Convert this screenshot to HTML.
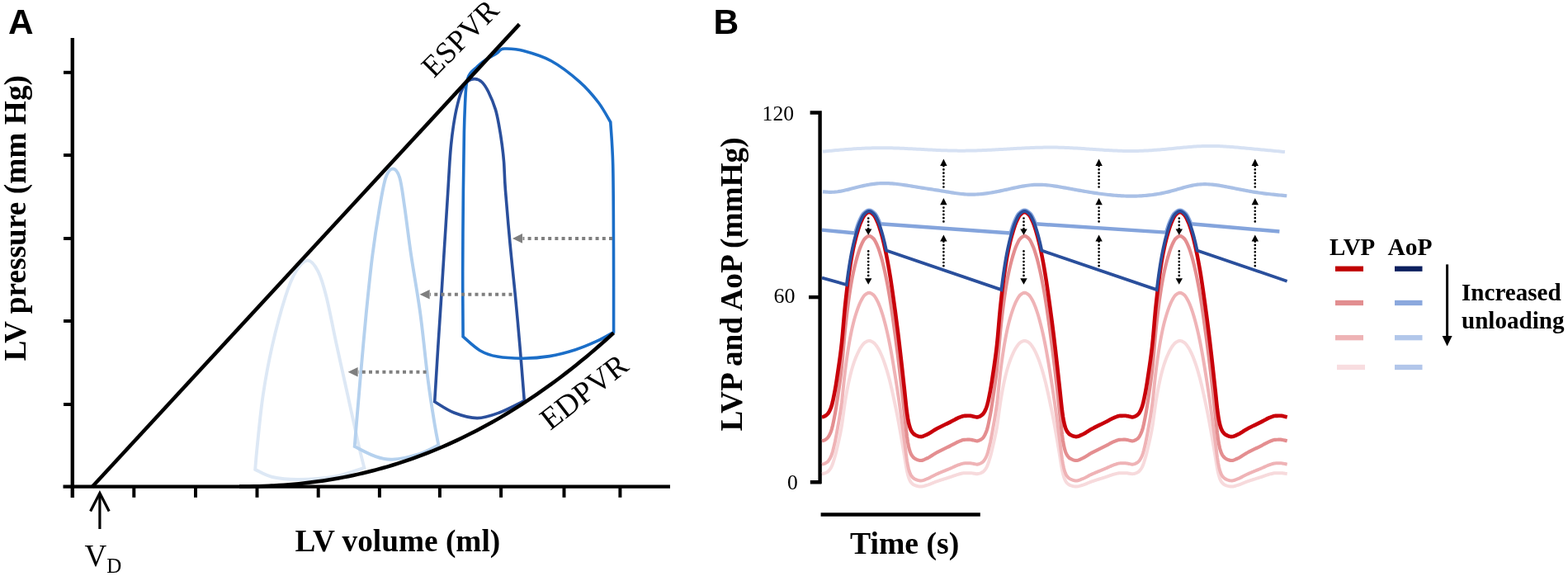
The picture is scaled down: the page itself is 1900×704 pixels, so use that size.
<!DOCTYPE html>
<html><head><meta charset="utf-8"><title>PV loops and LVP/AoP waveforms</title>
<style>html,body{margin:0;padding:0;background:#fff;width:1900px;height:704px;overflow:hidden}svg{display:block}</style>
</head><body>
<svg width="1900" height="704" viewBox="0 0 1900 704">
<rect width="1900" height="704" fill="#fff"/>
<path d="M87.8 46 V603" stroke="#000" stroke-width="4.4" fill="none"/>
<path d="M76.5 589.6 H812" stroke="#000" stroke-width="4.4" fill="none"/>
<path d="M77 87.8 H88" stroke="#000" stroke-width="4" fill="none"/>
<path d="M77 188 H88" stroke="#000" stroke-width="4" fill="none"/>
<path d="M77 289 H88" stroke="#000" stroke-width="4" fill="none"/>
<path d="M77 389 H88" stroke="#000" stroke-width="4" fill="none"/>
<path d="M77 490 H88" stroke="#000" stroke-width="4" fill="none"/>
<path d="M162.3 589 V602.8" stroke="#000" stroke-width="4" fill="none"/>
<path d="M237 589 V602.8" stroke="#000" stroke-width="4" fill="none"/>
<path d="M311.5 589 V602.8" stroke="#000" stroke-width="4" fill="none"/>
<path d="M385.7 589 V602.8" stroke="#000" stroke-width="4" fill="none"/>
<path d="M459.9 589 V602.8" stroke="#000" stroke-width="4" fill="none"/>
<path d="M532.9 589 V602.8" stroke="#000" stroke-width="4" fill="none"/>
<path d="M607.1 589 V602.8" stroke="#000" stroke-width="4" fill="none"/>
<path d="M683.5 589 V602.8" stroke="#000" stroke-width="4" fill="none"/>
<path d="M751.4 589 V602.8" stroke="#000" stroke-width="4" fill="none"/>
<path d="M309.2 568.9 C309.65 563.88 310.32 553.78 311.9 538.8 C313.48 523.82 315.72 498.9 318.7 479 C321.68 459.1 325.28 439.28 329.8 419.4 C334.32 399.52 341.02 374.77 345.8 359.7 C350.58 344.63 354 336.37 358.5 329 C363 321.63 368.3 315.5 372.8 315.5 C377.3 315.5 381.72 321.63 385.5 329 C389.28 336.37 391.72 344.63 395.5 359.7 C399.28 374.77 403.88 399.52 408.2 419.4 C412.52 439.28 417.02 459.1 421.4 479 C425.78 498.9 431.18 524.17 434.5 538.8 C437.82 553.43 440.17 562.13 441.3 566.8 C435.25 568.58 418.22 575.13 405 577.5 C391.78 579.87 374.5 580.92 362 581 C349.5 581.08 338.8 580.02 330 578 C321.2 575.98 312.67 570.42 309.2 568.9 Z" stroke="#dde8f5" stroke-width="3.9" fill="none" stroke-linejoin="miter"/>
<path d="M429.7 541.1 C430.05 536.73 430.68 528.25 431.8 514.9 C432.92 501.55 434.42 483.48 436.4 461 C438.38 438.52 441.22 405.27 443.7 380 C446.18 354.73 448.53 331.12 451.3 309.4 C454.07 287.68 457.6 265.43 460.3 249.7 C463 233.97 464.88 222.53 467.5 215 C470.12 207.47 473.22 204.5 476 204.5 C478.78 204.5 481.85 207.47 484.2 215 C486.55 222.53 487.77 233.97 490.1 249.7 C492.43 265.43 495 287.68 498.2 309.4 C501.4 331.12 505.88 354.73 509.3 380 C512.72 405.27 515.78 438.52 518.7 461 C521.62 483.48 524.68 501.87 526.8 514.9 C528.92 527.93 530.63 535.15 531.4 539.2 C527.5 541 517.32 547.08 508 550 C498.68 552.92 484.5 556.25 475.5 556.7 C466.5 557.15 461.63 555.3 454 552.7 C446.37 550.1 433.75 543.03 429.7 541.1 Z" stroke="#b5d1ee" stroke-width="3.9" fill="none"/>
<path d="M526.7 486.8 C527.38 475.67 529.45 441.27 530.8 420 C532.15 398.73 533.47 380.03 534.8 359.2 C536.13 338.37 537.45 316.53 538.8 295 C540.15 273.47 541.88 246.4 542.9 230 C543.92 213.6 544.28 205.72 544.9 196.6 C545.52 187.48 545.88 182.4 546.6 175.3 C547.32 168.2 548.13 161.12 549.2 154 C550.27 146.88 551.4 139.72 553 132.6 C554.6 125.48 556.63 116.85 558.8 111.3 C560.97 105.75 563.27 101.92 566 99.3 C568.73 96.68 572.2 95.57 575.2 95.6 C578.2 95.63 581.23 96.88 584 99.5 C586.77 102.12 589.07 105.78 591.8 111.3 C594.53 116.82 598.2 125.48 600.4 132.6 C602.6 139.72 603.68 146.88 605 154 C606.32 161.12 607.37 168.2 608.3 175.3 C609.23 182.4 609.92 187.48 610.6 196.6 C611.28 205.72 611.17 213.6 612.4 230 C613.63 246.4 615.98 273.47 618 295 C620.02 316.53 622.5 338.37 624.5 359.2 C626.5 380.03 628.2 398.93 630 420 C631.8 441.07 634.42 474.67 635.3 485.6 C630.25 488 614.52 496.5 605 500 C595.48 503.5 587.37 506.6 578.2 506.6 C569.03 506.6 558.58 503.3 550 500 C541.42 496.7 530.58 489 526.7 486.8 Z" stroke="#2a4f9c" stroke-width="3.6" fill="none"/>
<path d="M561.1 407.9 C561.03 394.92 560.65 359.65 560.7 330 C560.75 300.35 561.12 258.33 561.4 230 C561.68 201.67 562.03 177.5 562.4 160 C562.77 142.5 563.2 134.17 563.6 125 C564 115.83 564.27 110 564.8 105 C565.33 100 565.93 97.75 566.8 95 C567.67 92.25 568.22 90.75 570 88.5 C571.78 86.25 575 83.75 577.5 81.5 C580 79.25 582.58 76.88 585 75 C587.42 73.12 589.83 71.53 592 70.2 C594.17 68.87 596.17 68.07 598 67 C599.83 65.93 601.58 64.88 603 63.8 C604.42 62.72 605 61.3 606.5 60.5 C608 59.7 607.4 58.82 612 59 C616.6 59.18 624.73 59.1 634.1 61.6 C643.47 64.1 656.83 67.75 668.2 74 C679.57 80.25 692.83 90.77 702.3 99.1 C711.77 107.43 718.75 115.85 725 124 C731.25 132.15 737.33 144 739.8 148 C740.28 156.67 742.08 174.67 742.7 200 C743.32 225.33 743.35 266.25 743.5 300 C743.65 333.75 743.58 385.42 743.6 402.5 C740.28 404.28 731.4 409.67 723.7 413.2 C716 416.73 707.05 420.63 697.4 423.7 C687.75 426.77 676.33 429.85 665.8 431.6 C655.27 433.35 644.73 434.12 634.2 434.2 C623.67 434.28 611.37 433.68 602.6 432.1 C593.83 430.52 588.52 428.73 581.6 424.7 C574.68 420.67 564.52 410.7 561.1 407.9 Z" stroke="#1b6ec8" stroke-width="3.6" fill="none"/>
<path d="M111.6 590 L629.4 29.4" stroke="#000" stroke-width="4.5" fill="none"/>
<path d="M290 589.59 C291 589.58 294 589.57 296 589.55 C298 589.53 300 589.5 302 589.47 C304 589.44 306 589.4 308 589.35 C310 589.3 312 589.25 314 589.19 C316 589.13 318 589.06 320 588.99 C322 588.91 324 588.83 326 588.74 C328 588.64 330 588.54 332 588.44 C334 588.33 336 588.21 338 588.08 C340 587.96 342 587.83 344 587.68 C346 587.54 348 587.39 350 587.23 C352 587.06 354 586.89 356 586.71 C358 586.53 360 586.35 362 586.15 C364 585.95 366 585.74 368 585.52 C370 585.31 372 585.08 374 584.84 C376 584.6 378 584.36 380 584.1 C382 583.84 384 583.57 386 583.3 C388 583.02 390 582.73 392 582.43 C394 582.14 396 581.83 398 581.51 C400 581.19 402 580.86 404 580.52 C406 580.18 408 579.83 410 579.47 C412 579.11 414 578.74 416 578.35 C418 577.97 420 577.58 422 577.17 C424 576.77 426 576.35 428 575.93 C430 575.5 432 575.06 434 574.61 C436 574.16 438 573.7 440 573.23 C442 572.76 444 572.28 446 571.78 C448 571.29 450 570.78 452 570.26 C454 569.74 456 569.22 458 568.67 C460 568.13 462 567.58 464 567.02 C466 566.45 468 565.88 470 565.29 C472 564.7 474 564.1 476 563.49 C478 562.88 480 562.25 482 561.62 C484 560.98 486 560.34 488 559.68 C490 559.02 492 558.34 494 557.66 C496 556.97 498 556.28 500 555.57 C502 554.86 504 554.14 506 553.41 C508 552.67 510 551.93 512 551.17 C514 550.41 516 549.64 518 548.85 C520 548.07 522 547.28 524 546.47 C526 545.66 528 544.84 530 544 C532 543.17 534 542.32 536 541.46 C538 540.6 540 539.73 542 538.84 C544 537.96 546 537.06 548 536.15 C550 535.24 552 534.31 554 533.38 C556 532.44 558 531.49 560 530.52 C562 529.56 564 528.58 566 527.59 C568 526.61 570 525.6 572 524.59 C574 523.57 576 522.54 578 521.5 C580 520.45 582 519.4 584 518.33 C586 517.26 588 516.18 590 515.08 C592 513.98 594 512.87 596 511.75 C598 510.63 600 509.49 602 508.34 C604 507.19 606 506.03 608 504.85 C610 503.67 612 502.48 614 501.27 C616 500.07 618 498.85 620 497.62 C622 496.39 624 495.14 626 493.88 C628 492.62 630 491.35 632 490.06 C634 488.77 636 487.47 638 486.15 C640 484.84 642 483.51 644 482.16 C646 480.82 648 479.46 650 478.09 C652 476.72 654 475.33 656 473.93 C658 472.53 660 471.12 662 469.69 C664 468.26 666 466.82 668 465.36 C670 463.9 672 462.43 674 460.95 C676 459.46 678 457.96 680 456.45 C682 454.93 684 453.4 686 451.86 C688 450.32 690 448.76 692 447.19 C694 445.62 696 444.03 698 442.43 C700 440.83 702 439.21 704 437.58 C706 435.95 708 434.31 710 432.65 C712 430.99 714 429.32 716 427.63 C718 425.94 720 424.24 722 422.52 C724 420.8 726 419.07 728 417.32 C730 415.57 732 413.81 734 412.03 C736 410.26 738.4 408.1 740 406.66 C741.6 405.22 743 403.93 743.6 403.39" stroke="#000" stroke-width="4.5" fill="none"/>
<path d="M742 288.9 H633.5" stroke="#7f7f7f" stroke-width="4" stroke-dasharray="4 4.2" fill="none"/><path d="M621 288.9 L633 283.1 L633 294.7 Z" fill="#7f7f7f"/>
<path d="M620.5 356.8 H521.1" stroke="#7f7f7f" stroke-width="4" stroke-dasharray="4 4.2" fill="none"/><path d="M508.6 356.8 L520.6 351 L520.6 362.6 Z" fill="#7f7f7f"/>
<path d="M516.6 450.7 H434.1" stroke="#7f7f7f" stroke-width="4" stroke-dasharray="4 4.2" fill="none"/><path d="M421.6 450.7 L433.6 444.9 L433.6 456.5 Z" fill="#7f7f7f"/>
<path d="M120.9 641 V599" stroke="#000" stroke-width="3.2" fill="none"/>
<path d="M109.6 619.5 L120.9 597.5 L132.2 619.5" stroke="#000" stroke-width="3.2" fill="none"/>
<path d="M981.6 136.5 H993.6 V586.2 M981.8 584.2 H995" stroke="#000" stroke-width="4.4" fill="none" stroke-linejoin="miter"/>
<path d="M980 360.1 H994" stroke="#000" stroke-width="4.4" fill="none"/>
<path d="M994.6 623.5 H1187.8" stroke="#000" stroke-width="4.3" fill="none"/>
<path d="M997 183.6 L999 183.41 L1001 183.22 L1003 183.03 L1005 182.84 L1007 182.65 L1009 182.47 L1011 182.28 L1013 182.1 L1015 181.92 L1017 181.75 L1019 181.57 L1021 181.4 L1023 181.24 L1025 181.08 L1027 180.92 L1029 180.77 L1031 180.63 L1033 180.49 L1035 180.35 L1037 180.22 L1039 180.1 L1041 179.99 L1043 179.88 L1045 179.78 L1047 179.69 L1049 179.6 L1051 179.52 L1053 179.45 L1055 179.39 L1057 179.34 L1059 179.29 L1061 179.25 L1063 179.23 L1065 179.21 L1067 179.2 L1069 179.2 L1071 179.21 L1073 179.22 L1075 179.25 L1077 179.28 L1079 179.32 L1081 179.36 L1083 179.42 L1085 179.48 L1087 179.54 L1089 179.61 L1091 179.69 L1093 179.77 L1095 179.85 L1097 179.94 L1099 180.03 L1101 180.13 L1103 180.23 L1105 180.33 L1107 180.43 L1109 180.54 L1111 180.64 L1113 180.75 L1115 180.86 L1117 180.96 L1119 181.07 L1121 181.18 L1123 181.28 L1125 181.39 L1127 181.49 L1129 181.59 L1131 181.69 L1133 181.79 L1135 181.88 L1137 181.97 L1139 182.05 L1141 182.14 L1143 182.21 L1145 182.28 L1147 182.35 L1149 182.41 L1151 182.46 L1153 182.51 L1155 182.55 L1157 182.59 L1159 182.61 L1161 182.63 L1163 182.64 L1165 182.65 L1167 182.64 L1169 182.63 L1171 182.62 L1173 182.59 L1175 182.56 L1177 182.52 L1179 182.48 L1181 182.43 L1183 182.38 L1185 182.32 L1187 182.25 L1189 182.18 L1191 182.1 L1193 182.02 L1195 181.93 L1197 181.84 L1199 181.75 L1201 181.65 L1203 181.55 L1205 181.44 L1207 181.34 L1209 181.23 L1211 181.12 L1213 181 L1215 180.89 L1217 180.77 L1219 180.66 L1221 180.54 L1223 180.43 L1225 180.31 L1227 180.2 L1229 180.09 L1231 179.97 L1233 179.86 L1235 179.76 L1237 179.65 L1239 179.55 L1241 179.45 L1243 179.35 L1245 179.26 L1247 179.17 L1249 179.09 L1251 179.01 L1253 178.94 L1255 178.87 L1257 178.8 L1259 178.75 L1261 178.7 L1263 178.65 L1265 178.62 L1267 178.59 L1269 178.57 L1271 178.55 L1273 178.55 L1275 178.55 L1277 178.56 L1279 178.59 L1281 178.62 L1283 178.66 L1285 178.71 L1287 178.77 L1289 178.83 L1291 178.91 L1293 178.99 L1295 179.08 L1297 179.18 L1299 179.28 L1301 179.39 L1303 179.5 L1305 179.62 L1307 179.74 L1309 179.86 L1311 179.99 L1313 180.12 L1315 180.26 L1317 180.39 L1319 180.53 L1321 180.67 L1323 180.81 L1325 180.94 L1327 181.08 L1329 181.22 L1331 181.36 L1333 181.49 L1335 181.62 L1337 181.75 L1339 181.88 L1341 182 L1343 182.12 L1345 182.23 L1347 182.34 L1349 182.44 L1351 182.53 L1353 182.62 L1355 182.7 L1357 182.77 L1359 182.84 L1361 182.89 L1363 182.93 L1365 182.97 L1367 182.99 L1369 183 L1371 183 L1373 182.99 L1375 182.97 L1377 182.93 L1379 182.88 L1381 182.82 L1383 182.75 L1385 182.67 L1387 182.58 L1389 182.49 L1391 182.38 L1393 182.26 L1395 182.14 L1397 182 L1399 181.86 L1401 181.72 L1403 181.56 L1405 181.4 L1407 181.24 L1409 181.07 L1411 180.89 L1413 180.71 L1415 180.53 L1417 180.34 L1419 180.15 L1421 179.95 L1423 179.76 L1425 179.56 L1427 179.36 L1429 179.17 L1431 178.97 L1433 178.78 L1435 178.59 L1437 178.41 L1439 178.23 L1441 178.07 L1443 177.9 L1445 177.75 L1447 177.6 L1449 177.47 L1451 177.35 L1453 177.24 L1455 177.14 L1457 177.06 L1459 176.99 L1461 176.94 L1463 176.9 L1465 176.88 L1467 176.88 L1469 176.9 L1471 176.93 L1473 176.98 L1475 177.04 L1477 177.11 L1479 177.2 L1481 177.3 L1483 177.41 L1485 177.53 L1487 177.66 L1489 177.8 L1491 177.95 L1493 178.1 L1495 178.26 L1497 178.43 L1499 178.6 L1501 178.78 L1503 178.96 L1505 179.14 L1507 179.32 L1509 179.51 L1511 179.7 L1513 179.88 L1515 180.07 L1517 180.26 L1519 180.45 L1521 180.64 L1523 180.83 L1525 181.02 L1527 181.21 L1529 181.4 L1531 181.59 L1533 181.78 L1535 181.98 L1537 182.17 L1539 182.36 L1541 182.55 L1543 182.75 L1545 182.94 L1547 183.13 L1549 183.33 L1551 183.52 L1553 183.71 L1555 183.91 L1557 184.1" stroke="#d6e1f3" stroke-width="4" fill="none" stroke-linecap="butt"/>
<path d="M997 232.3 L999 232.46 L1001 232.6 L1003 232.72 L1005 232.79 L1007 232.81 L1009 232.77 L1011 232.65 L1013 232.47 L1015 232.23 L1017 231.93 L1019 231.59 L1021 231.2 L1023 230.78 L1025 230.32 L1027 229.85 L1029 229.35 L1031 228.84 L1033 228.32 L1035 227.81 L1037 227.29 L1039 226.79 L1041 226.3 L1043 225.82 L1045 225.35 L1047 224.91 L1049 224.49 L1051 224.09 L1053 223.72 L1055 223.39 L1057 223.08 L1059 222.81 L1061 222.57 L1063 222.38 L1065 222.23 L1067 222.12 L1069 222.06 L1071 222.03 L1073 222.05 L1075 222.09 L1077 222.17 L1079 222.28 L1081 222.42 L1083 222.59 L1085 222.78 L1087 223 L1089 223.24 L1091 223.49 L1093 223.76 L1095 224.05 L1097 224.35 L1099 224.66 L1101 224.98 L1103 225.3 L1105 225.63 L1107 225.96 L1109 226.29 L1111 226.62 L1113 226.95 L1115 227.27 L1117 227.58 L1119 227.9 L1121 228.21 L1123 228.52 L1125 228.82 L1127 229.13 L1129 229.44 L1131 229.75 L1133 230.06 L1135 230.37 L1137 230.69 L1139 231.01 L1141 231.34 L1143 231.67 L1145 232 L1147 232.34 L1149 232.68 L1151 233.01 L1153 233.34 L1155 233.66 L1157 233.96 L1159 234.25 L1161 234.52 L1163 234.77 L1165 235 L1167 235.19 L1169 235.36 L1171 235.5 L1173 235.59 L1175 235.65 L1177 235.67 L1179 235.65 L1181 235.6 L1183 235.51 L1185 235.39 L1187 235.25 L1189 235.07 L1191 234.86 L1193 234.63 L1195 234.37 L1197 234.09 L1199 233.78 L1201 233.46 L1203 233.12 L1205 232.76 L1207 232.38 L1209 231.99 L1211 231.59 L1213 231.17 L1215 230.75 L1217 230.32 L1219 229.88 L1221 229.43 L1223 228.99 L1225 228.54 L1227 228.1 L1229 227.66 L1231 227.24 L1233 226.82 L1235 226.42 L1237 226.03 L1239 225.67 L1241 225.33 L1243 225.02 L1245 224.73 L1247 224.48 L1249 224.26 L1251 224.07 L1253 223.93 L1255 223.83 L1257 223.78 L1259 223.77 L1261 223.81 L1263 223.88 L1265 223.99 L1267 224.14 L1269 224.32 L1271 224.53 L1273 224.77 L1275 225.03 L1277 225.32 L1279 225.62 L1281 225.94 L1283 226.27 L1285 226.61 L1287 226.96 L1289 227.32 L1291 227.68 L1293 228.04 L1295 228.4 L1297 228.77 L1299 229.13 L1301 229.49 L1303 229.85 L1305 230.21 L1307 230.56 L1309 230.91 L1311 231.26 L1313 231.61 L1315 231.95 L1317 232.29 L1319 232.62 L1321 232.95 L1323 233.26 L1325 233.58 L1327 233.88 L1329 234.18 L1331 234.47 L1333 234.75 L1335 235.02 L1337 235.28 L1339 235.53 L1341 235.77 L1343 235.99 L1345 236.21 L1347 236.41 L1349 236.6 L1351 236.78 L1353 236.94 L1355 237.08 L1357 237.21 L1359 237.33 L1361 237.43 L1363 237.51 L1365 237.57 L1367 237.62 L1369 237.65 L1371 237.66 L1373 237.65 L1375 237.62 L1377 237.57 L1379 237.51 L1381 237.42 L1383 237.31 L1385 237.18 L1387 237.03 L1389 236.86 L1391 236.67 L1393 236.45 L1395 236.22 L1397 235.96 L1399 235.68 L1401 235.38 L1403 235.05 L1405 234.7 L1407 234.33 L1409 233.93 L1411 233.51 L1413 233.07 L1415 232.6 L1417 232.1 L1419 231.58 L1421 231.04 L1423 230.48 L1425 229.91 L1427 229.34 L1429 228.76 L1431 228.19 L1433 227.62 L1435 227.07 L1437 226.54 L1439 226.02 L1441 225.54 L1443 225.09 L1445 224.68 L1447 224.31 L1449 223.98 L1451 223.71 L1453 223.5 L1455 223.35 L1457 223.25 L1459 223.2 L1461 223.21 L1463 223.26 L1465 223.35 L1467 223.49 L1469 223.66 L1471 223.87 L1473 224.11 L1475 224.38 L1477 224.68 L1479 225 L1481 225.34 L1483 225.7 L1485 226.07 L1487 226.46 L1489 226.85 L1491 227.25 L1493 227.66 L1495 228.06 L1497 228.47 L1499 228.87 L1501 229.27 L1503 229.66 L1505 230.05 L1507 230.43 L1509 230.81 L1511 231.18 L1513 231.54 L1515 231.89 L1517 232.23 L1519 232.57 L1521 232.88 L1523 233.19 L1525 233.48 L1527 233.77 L1529 234.04 L1531 234.3 L1533 234.55 L1535 234.8 L1537 235.03 L1539 235.26 L1541 235.48 L1543 235.69 L1545 235.9 L1547 236.11 L1549 236.31 L1551 236.51 L1553 236.7 L1555 236.89 L1557 237.08 L1559 237.27 L1559.3 237.3" stroke="#a9c0e6" stroke-width="4.2" fill="none"/>
<path d="M996 278.6 L1036.24 282.49 L1036.49 281.62 L1036.74 280.76 L1037 279.91 L1037.25 279.06 L1037.5 278.23 L1037.75 277.4 L1038.01 276.59 L1038.26 275.79 L1038.51 275 L1038.77 274.23 L1039.02 273.48 L1039.28 272.74 L1039.54 272.01 L1039.79 271.31 L1040.05 270.62 L1040.31 269.95 L1040.57 269.3 L1040.83 268.67 L1041.1 268.07 L1041.35 267.5 L1041.6 266.94 L1041.85 266.38 L1042.11 265.81 L1042.36 265.26 L1042.62 264.71 L1042.88 264.16 L1043.14 263.63 L1043.4 263.1 L1043.66 262.59 L1043.93 262.09 L1044.2 261.6 L1044.47 261.13 L1044.75 260.67 L1045.04 260.23 L1045.33 259.81 L1045.64 259.4 L1045.96 259.01 L1046.3 258.64 L1046.66 258.29 L1046.91 258.06 L1047.17 257.83 L1047.43 257.6 L1047.7 257.37 L1047.97 257.14 L1048.24 256.91 L1048.52 256.68 L1048.81 256.46 L1049.11 256.24 L1049.41 256.03 L1049.73 255.83 L1050.05 255.63 L1050.39 255.45 L1050.74 255.27 L1051.11 255.12 L1051.49 254.98 L1051.89 254.86 L1052.31 254.78 L1052.75 254.72 L1053.2 254.7 L1053.65 254.72 L1054.09 254.78 L1054.51 254.86 L1054.91 254.98 L1055.29 255.12 L1055.66 255.27 L1056.01 255.45 L1056.35 255.63 L1056.67 255.83 L1056.99 256.03 L1057.29 256.24 L1057.59 256.46 L1057.88 256.68 L1058.16 256.91 L1058.43 257.14 L1058.7 257.37 L1058.97 257.6 L1059.23 257.83 L1059.49 258.06 L1059.74 258.29 L1060.1 258.64 L1060.44 259.01 L1060.76 259.4 L1061.07 259.81 L1061.36 260.23 L1061.65 260.67 L1061.93 261.13 L1062.2 261.6 L1062.47 262.09 L1062.74 262.59 L1063 263.1 L1063.26 263.63 L1063.52 264.16 L1063.78 264.71 L1064.04 265.26 L1064.29 265.81 L1064.55 266.38 L1064.8 266.94 L1065.05 267.5 L1065.3 268.07 L1065.57 268.67 L1065.83 269.3 L1066.09 269.95 L1066.35 270.62 L1066.61 271.31 L1066.61 271.31 L1224.54 282.49 L1224.79 281.62 L1225.04 280.76 L1225.3 279.91 L1225.55 279.06 L1225.8 278.23 L1226.05 277.4 L1226.31 276.59 L1226.56 275.79 L1226.81 275 L1227.07 274.23 L1227.32 273.48 L1227.58 272.74 L1227.84 272.01 L1228.09 271.31 L1228.35 270.62 L1228.61 269.95 L1228.87 269.3 L1229.13 268.67 L1229.4 268.07 L1229.65 267.5 L1229.9 266.94 L1230.15 266.38 L1230.41 265.81 L1230.66 265.26 L1230.92 264.71 L1231.18 264.16 L1231.44 263.63 L1231.7 263.1 L1231.96 262.59 L1232.23 262.09 L1232.5 261.6 L1232.77 261.13 L1233.05 260.67 L1233.34 260.23 L1233.63 259.81 L1233.94 259.4 L1234.26 259.01 L1234.6 258.64 L1234.96 258.29 L1235.21 258.06 L1235.47 257.83 L1235.73 257.6 L1236 257.37 L1236.27 257.14 L1236.54 256.91 L1236.82 256.68 L1237.11 256.46 L1237.41 256.24 L1237.71 256.03 L1238.03 255.83 L1238.35 255.63 L1238.69 255.45 L1239.04 255.27 L1239.41 255.12 L1239.79 254.98 L1240.19 254.86 L1240.61 254.78 L1241.05 254.72 L1241.5 254.7 L1241.95 254.72 L1242.39 254.78 L1242.81 254.86 L1243.21 254.98 L1243.59 255.12 L1243.96 255.27 L1244.31 255.45 L1244.65 255.63 L1244.97 255.83 L1245.29 256.03 L1245.59 256.24 L1245.89 256.46 L1246.18 256.68 L1246.46 256.91 L1246.73 257.14 L1247 257.37 L1247.27 257.6 L1247.53 257.83 L1247.79 258.06 L1248.04 258.29 L1248.4 258.64 L1248.74 259.01 L1249.06 259.4 L1249.37 259.81 L1249.66 260.23 L1249.95 260.67 L1250.23 261.13 L1250.5 261.6 L1250.77 262.09 L1251.04 262.59 L1251.3 263.1 L1251.56 263.63 L1251.82 264.16 L1252.08 264.71 L1252.34 265.26 L1252.59 265.81 L1252.85 266.38 L1253.1 266.94 L1253.35 267.5 L1253.6 268.07 L1253.87 268.67 L1254.13 269.3 L1254.39 269.95 L1254.65 270.62 L1254.91 271.31 L1254.91 271.31 L1413.09 281.62 L1413.34 280.76 L1413.6 279.91 L1413.85 279.06 L1414.1 278.23 L1414.35 277.4 L1414.61 276.59 L1414.86 275.79 L1415.11 275 L1415.37 274.23 L1415.62 273.48 L1415.88 272.74 L1416.14 272.01 L1416.39 271.31 L1416.65 270.62 L1416.91 269.95 L1417.17 269.3 L1417.43 268.67 L1417.7 268.07 L1417.95 267.5 L1418.2 266.94 L1418.45 266.38 L1418.71 265.81 L1418.96 265.26 L1419.22 264.71 L1419.48 264.16 L1419.74 263.63 L1420 263.1 L1420.26 262.59 L1420.53 262.09 L1420.8 261.6 L1421.07 261.13 L1421.35 260.67 L1421.64 260.23 L1421.93 259.81 L1422.24 259.4 L1422.56 259.01 L1422.9 258.64 L1423.26 258.29 L1423.51 258.06 L1423.77 257.83 L1424.03 257.6 L1424.3 257.37 L1424.57 257.14 L1424.84 256.91 L1425.12 256.68 L1425.41 256.46 L1425.71 256.24 L1426.01 256.03 L1426.33 255.83 L1426.65 255.63 L1426.99 255.45 L1427.34 255.27 L1427.71 255.12 L1428.09 254.98 L1428.49 254.86 L1428.91 254.78 L1429.35 254.72 L1429.8 254.7 L1430.25 254.72 L1430.69 254.78 L1431.11 254.86 L1431.51 254.98 L1431.89 255.12 L1432.26 255.27 L1432.61 255.45 L1432.95 255.63 L1433.27 255.83 L1433.59 256.03 L1433.89 256.24 L1434.19 256.46 L1434.48 256.68 L1434.76 256.91 L1435.03 257.14 L1435.3 257.37 L1435.57 257.6 L1435.83 257.83 L1436.09 258.06 L1436.34 258.29 L1436.7 258.64 L1437.04 259.01 L1437.36 259.4 L1437.67 259.81 L1437.96 260.23 L1438.25 260.67 L1438.53 261.13 L1438.8 261.6 L1439.07 262.09 L1439.34 262.59 L1439.6 263.1 L1439.86 263.63 L1440.12 264.16 L1440.38 264.71 L1440.64 265.26 L1440.89 265.81 L1441.15 266.38 L1441.4 266.94 L1441.65 267.5 L1441.9 268.07 L1442.17 268.67 L1442.43 269.3 L1442.69 269.95 L1442.95 270.62 L1443.21 271.31 L1443.21 271.31 L1550.4 280.53" stroke="#84a4dc" stroke-width="4.4" fill="none" stroke-linejoin="round"/>
<path d="M996 574.17 L997 574.01 L998 573.81 L999 573.54 L1000 573.19 L1001 572.77 L1002 572.27 L1003 571.62 L1004 570.71 L1005 569.56 L1006 568.19 L1007 566.64 L1008 564.63 L1009 562.01 L1010 558.98 L1011 555.74 L1012 552.31 L1013 548.46 L1014 544.29 L1015 539.96 L1016 535.59 L1017 531.15 L1018 526.48 L1019 521.41 L1020 515.69 L1021 508.79 L1022 501.22 L1023 493.7 L1024 486.94 L1025 480.95 L1026 475.26 L1027 469.89 L1028 464.9 L1029 460.29 L1030 455.98 L1031 451.95 L1032 448.2 L1033 444.76 L1034 441.6 L1035 438.65 L1036 435.9 L1037 433.33 L1038 430.94 L1039 428.69 L1040 426.54 L1041 424.52 L1042 422.67 L1043 421.04 L1044 419.58 L1045 418.19 L1046 416.91 L1047 415.84 L1048 415.03 L1049 414.44 L1050 413.9 L1051 413.44 L1052 413.11 L1053 412.96 L1054 413.03 L1055 413.29 L1056 413.7 L1057 414.22 L1058 414.79 L1059 415.48 L1060 416.46 L1061 417.66 L1062 419.01 L1063 420.45 L1064 421.99 L1065 423.76 L1066 425.71 L1067 427.81 L1068 430.03 L1069 432.37 L1070 434.91 L1071 437.63 L1072 440.5 L1073 443.5 L1074 446.62 L1075 449.93 L1076 453.41 L1077 457.05 L1078 460.86 L1079 464.85 L1080 469.1 L1081 473.55 L1082 478.12 L1083 482.77 L1084 487.46 L1085 492.25 L1086 497.16 L1087 502.18 L1088 507.32 L1089 512.61 L1090 518.09 L1091 523.7 L1092 529.39 L1093 535.19 L1094 541.12 L1095 547.07 L1096 552.98 L1097 559.22 L1098 565.39 L1099 570.81 L1100 575.03 L1101 578.51 L1102 581.08 L1103 583.08 L1104 584.58 L1105 585.65 L1106 586.55 L1107 587.27 L1108 587.79 L1109 588.15 L1110 588.49 L1111 588.79 L1112 589.05 L1113 589.27 L1114 589.43 L1115 589.53 L1116 589.55 L1117 589.48 L1118 589.32 L1119 589.1 L1120 588.83 L1121 588.53 L1122 588.22 L1123 587.92 L1124 587.63 L1125 587.3 L1126 586.93 L1127 586.55 L1128 586.14 L1129 585.73 L1130 585.31 L1131 584.89 L1132 584.48 L1133 584.09 L1134 583.72 L1135 583.36 L1136 583.02 L1137 582.68 L1138 582.35 L1139 582.02 L1140 581.69 L1141 581.37 L1142 581.05 L1143 580.73 L1144 580.41 L1145 580.1 L1146 579.78 L1147 579.47 L1148 579.15 L1149 578.84 L1150 578.52 L1151 578.19 L1152 577.86 L1153 577.52 L1154 577.18 L1155 576.82 L1156 576.47 L1157 576.12 L1158 575.77 L1159 575.44 L1160 575.12 L1161 574.82 L1162 574.54 L1163 574.28 L1164 574.04 L1165 573.79 L1166 573.55 L1167 573.35 L1168 573.23 L1169 573.19 L1170 573.17 L1171 573.16 L1172 573.15 L1173 573.14 L1174 573.13 L1175 573.13 L1176 573.16 L1177 573.25 L1178 573.39 L1179 573.54 L1180 573.69 L1181 573.83 L1182 574 L1183 574.15 L1184 574.27 L1185 574.06 L1186 573.88 L1187 573.63 L1188 573.31 L1189 572.9 L1190 572.43 L1191 571.85 L1192 571.01 L1193 569.93 L1194 568.63 L1195 567.13 L1196 565.31 L1197 562.85 L1198 559.92 L1199 556.72 L1200 553.39 L1201 549.65 L1202 545.57 L1203 541.27 L1204 536.91 L1205 532.5 L1206 527.92 L1207 522.98 L1208 517.52 L1209 510.96 L1210 503.52 L1211 495.91 L1212 488.85 L1213 482.72 L1214 476.93 L1215 471.47 L1216 466.36 L1217 461.63 L1218 457.25 L1219 453.13 L1220 449.29 L1221 445.76 L1222 442.53 L1223 439.52 L1224 436.71 L1225 434.08 L1226 431.64 L1227 429.35 L1228 427.17 L1229 425.11 L1230 423.21 L1231 421.51 L1232 420.02 L1233 418.6 L1234 417.28 L1235 416.14 L1236 415.24 L1237 414.61 L1238 414.06 L1239 413.57 L1240 413.2 L1241 412.99 L1242 412.99 L1243 413.2 L1244 413.57 L1245 414.06 L1246 414.61 L1247 415.24 L1248 416.14 L1249 417.28 L1250 418.6 L1251 420.02 L1252 421.51 L1253 423.21 L1254 425.11 L1255 427.17 L1256 429.35 L1257 431.65 L1258 434.13 L1259 436.8 L1260 439.63 L1261 442.59 L1262 445.67 L1263 448.92 L1264 452.35 L1265 455.94 L1266 459.7 L1267 463.62 L1268 467.8 L1269 472.2 L1270 476.74 L1271 481.37 L1272 486.04 L1273 490.8 L1274 495.67 L1275 500.66 L1276 505.76 L1277 511 L1278 516.43 L1279 522.01 L1280 527.68 L1281 533.44 L1282 539.34 L1283 545.29 L1284 551.2 L1285 557.33 L1286 563.59 L1287 569.3 L1288 573.85 L1289 577.55 L1290 580.4 L1291 582.53 L1292 584.19 L1293 585.35 L1294 586.29 L1295 587.07 L1296 587.65 L1297 588.04 L1298 588.39 L1299 588.7 L1300 588.98 L1301 589.21 L1302 589.39 L1303 589.51 L1304 589.55 L1305 589.51 L1306 589.38 L1307 589.17 L1308 588.91 L1309 588.62 L1310 588.31 L1311 588.01 L1312 587.72 L1313 587.4 L1314 587.04 L1315 586.67 L1316 586.27 L1317 585.85 L1318 585.44 L1319 585.02 L1320 584.6 L1321 584.21 L1322 583.83 L1323 583.47 L1324 583.12 L1325 582.78 L1326 582.45 L1327 582.11 L1328 581.79 L1329 581.46 L1330 581.14 L1331 580.83 L1332 580.51 L1333 580.19 L1334 579.88 L1335 579.56 L1336 579.25 L1337 578.93 L1338 578.61 L1339 578.29 L1340 577.97 L1341 577.63 L1342 577.28 L1343 576.93 L1344 576.57 L1345 576.22 L1346 575.87 L1347 575.54 L1348 575.21 L1349 574.9 L1350 574.62 L1351 574.36 L1352 574.11 L1353 573.86 L1354 573.62 L1355 573.41 L1356 573.26 L1357 573.19 L1358 573.18 L1359 573.16 L1360 573.15 L1361 573.14 L1362 573.14 L1363 573.13 L1364 573.14 L1365 573.22 L1366 573.34 L1367 573.5 L1368 573.65 L1369 573.79 L1370 573.95 L1371 574.11 L1372 574.24 L1373 574.11 L1374 573.94 L1375 573.72 L1376 573.41 L1377 573.03 L1378 572.58 L1379 572.04 L1380 571.29 L1381 570.28 L1382 569.04 L1383 567.59 L1384 565.92 L1385 563.64 L1386 560.83 L1387 557.7 L1388 554.43 L1389 550.82 L1390 546.82 L1391 542.57 L1392 538.22 L1393 533.84 L1394 529.32 L1395 524.51 L1396 519.22 L1397 513.06 L1398 505.8 L1399 498.16 L1400 490.86 L1401 484.52 L1402 478.64 L1403 473.07 L1404 467.85 L1405 463.01 L1406 458.54 L1407 454.33 L1408 450.41 L1409 446.79 L1410 443.47 L1411 440.4 L1412 437.53 L1413 434.85 L1414 432.35 L1415 430.03 L1416 427.81 L1417 425.71 L1418 423.76 L1419 421.99 L1420 420.45 L1421 419.01 L1422 417.66 L1423 416.46 L1424 415.48 L1425 414.79 L1426 414.22 L1427 413.7 L1428 413.29 L1429 413.03 L1430 412.96 L1431 413.11 L1432 413.44 L1433 413.9 L1434 414.44 L1435 415.03 L1436 415.84 L1437 416.91 L1438 418.19 L1439 419.58 L1440 421.04 L1441 422.67 L1442 424.52 L1443 426.54 L1444 428.69 L1445 430.94 L1446 433.36 L1447 435.98 L1448 438.76 L1449 441.69 L1450 444.73 L1451 447.92 L1452 451.3 L1453 454.85 L1454 458.56 L1455 462.42 L1456 466.52 L1457 470.86 L1458 475.37 L1459 479.98 L1460 484.63 L1461 489.36 L1462 494.2 L1463 499.15 L1464 504.22 L1465 509.41 L1466 514.79 L1467 520.32 L1468 525.97 L1469 531.69 L1470 537.56 L1471 543.51 L1472 549.44 L1473 555.44 L1474 561.74 L1475 567.69 L1476 572.61 L1477 576.51 L1478 579.65 L1479 581.94 L1480 583.75 L1481 585.03 L1482 586.03 L1483 586.86 L1484 587.5 L1485 587.94 L1486 588.29 L1487 588.61 L1488 588.9 L1489 589.15 L1490 589.34 L1491 589.48 L1492 589.55 L1493 589.53 L1494 589.43 L1495 589.24 L1496 589 L1497 588.71 L1498 588.41 L1499 588.1 L1500 587.81 L1501 587.5 L1502 587.15 L1503 586.78 L1504 586.39 L1505 585.98 L1506 585.56 L1507 585.14 L1508 584.73 L1509 584.32 L1510 583.94 L1511 583.58 L1512 583.23 L1513 582.88 L1514 582.55 L1515 582.21 L1516 581.89 L1517 581.56 L1518 581.24 L1519 580.92 L1520 580.6 L1521 580.29 L1522 579.97 L1523 579.66 L1524 579.34 L1525 579.03 L1526 578.71 L1527 578.39 L1528 578.06 L1529 577.73 L1530 577.39 L1531 577.03 L1532 576.68 L1533 576.33 L1534 575.98 L1535 575.64 L1536 575.31 L1537 574.99 L1538 574.7 L1539 574.43 L1540 574.19 L1541 573.94 L1542 573.69 L1543 573.46 L1544 573.29 L1545 573.2 L1546 573.18 L1547 573.17 L1548 573.15 L1549 573.14 L1550 573.14 L1551 573.13 L1552 573.13 L1553 573.19 L1554 573.3 L1555 573.45 L1556 573.6 L1557 573.74 L1558 573.9 L1559 574.06 L1559.7 574.17" stroke="#f7dadc" stroke-width="4.0" fill="none" stroke-linejoin="round"/>
<path d="M996 562.64 L997 562.43 L998 562.17 L999 561.82 L1000 561.37 L1001 560.83 L1002 560.18 L1003 559.35 L1004 558.17 L1005 556.69 L1006 554.93 L1007 552.92 L1008 550.33 L1009 546.95 L1010 543.04 L1011 538.87 L1012 534.44 L1013 529.47 L1014 524.1 L1015 518.52 L1016 512.88 L1017 507.16 L1018 501.13 L1019 494.58 L1020 487.21 L1021 478.31 L1022 468.55 L1023 458.85 L1024 450.14 L1025 442.41 L1026 435.07 L1027 428.15 L1028 421.7 L1029 415.76 L1030 410.21 L1031 405 L1032 400.17 L1033 395.74 L1034 391.67 L1035 387.86 L1036 384.31 L1037 380.99 L1038 377.91 L1039 375.01 L1040 372.23 L1041 369.63 L1042 367.25 L1043 365.15 L1044 363.27 L1045 361.46 L1046 359.82 L1047 358.44 L1048 357.39 L1049 356.64 L1050 355.94 L1051 355.34 L1052 354.92 L1053 354.73 L1054 354.81 L1055 355.15 L1056 355.68 L1057 356.35 L1058 357.08 L1059 357.97 L1060 359.23 L1061 360.78 L1062 362.53 L1063 364.39 L1064 366.38 L1065 368.65 L1066 371.17 L1067 373.88 L1068 376.74 L1069 379.76 L1070 383.03 L1071 386.54 L1072 390.25 L1073 394.11 L1074 398.14 L1075 402.4 L1076 406.89 L1077 411.59 L1078 416.49 L1079 421.65 L1080 427.13 L1081 432.86 L1082 438.76 L1083 444.75 L1084 450.8 L1085 456.99 L1086 463.31 L1087 469.78 L1088 476.42 L1089 483.24 L1090 490.31 L1091 497.54 L1092 504.88 L1093 512.37 L1094 520.01 L1095 527.69 L1096 535.31 L1097 543.36 L1098 551.31 L1099 558.3 L1100 563.74 L1101 568.23 L1102 571.55 L1103 574.12 L1104 576.06 L1105 577.43 L1106 578.59 L1107 579.52 L1108 580.19 L1109 580.66 L1110 581.09 L1111 581.49 L1112 581.83 L1113 582.11 L1114 582.31 L1115 582.44 L1116 582.47 L1117 582.38 L1118 582.17 L1119 581.89 L1120 581.54 L1121 581.15 L1122 580.75 L1123 580.37 L1124 579.99 L1125 579.56 L1126 579.09 L1127 578.6 L1128 578.07 L1129 577.54 L1130 577 L1131 576.46 L1132 575.93 L1133 575.43 L1134 574.94 L1135 574.49 L1136 574.05 L1137 573.61 L1138 573.18 L1139 572.75 L1140 572.33 L1141 571.91 L1142 571.5 L1143 571.09 L1144 570.69 L1145 570.28 L1146 569.87 L1147 569.47 L1148 569.06 L1149 568.65 L1150 568.24 L1151 567.82 L1152 567.4 L1153 566.96 L1154 566.51 L1155 566.05 L1156 565.59 L1157 565.14 L1158 564.7 L1159 564.27 L1160 563.85 L1161 563.47 L1162 563.1 L1163 562.78 L1164 562.46 L1165 562.14 L1166 561.83 L1167 561.58 L1168 561.42 L1169 561.37 L1170 561.35 L1171 561.33 L1172 561.31 L1173 561.3 L1174 561.3 L1175 561.29 L1176 561.33 L1177 561.45 L1178 561.62 L1179 561.82 L1180 562.01 L1181 562.2 L1182 562.41 L1183 562.61 L1184 562.76 L1185 562.49 L1186 562.26 L1187 561.94 L1188 561.52 L1189 561 L1190 560.38 L1191 559.63 L1192 558.56 L1193 557.16 L1194 555.48 L1195 553.55 L1196 551.2 L1197 548.03 L1198 544.25 L1199 540.13 L1200 535.83 L1201 531.01 L1202 525.74 L1203 520.21 L1204 514.57 L1205 508.9 L1206 502.98 L1207 496.61 L1208 489.57 L1209 481.11 L1210 471.51 L1211 461.7 L1212 452.59 L1213 444.69 L1214 437.23 L1215 430.18 L1216 423.59 L1217 417.5 L1218 411.84 L1219 406.53 L1220 401.58 L1221 397.02 L1222 392.86 L1223 388.97 L1224 385.35 L1225 381.96 L1226 378.81 L1227 375.87 L1228 373.05 L1229 370.39 L1230 367.94 L1231 365.75 L1232 363.83 L1233 361.99 L1234 360.29 L1235 358.82 L1236 357.66 L1237 356.86 L1238 356.14 L1239 355.51 L1240 355.03 L1241 354.76 L1242 354.76 L1243 355.03 L1244 355.51 L1245 356.14 L1246 356.86 L1247 357.66 L1248 358.82 L1249 360.29 L1250 361.99 L1251 363.83 L1252 365.75 L1253 367.94 L1254 370.39 L1255 373.05 L1256 375.87 L1257 378.82 L1258 382.02 L1259 385.47 L1260 389.12 L1261 392.94 L1262 396.91 L1263 401.1 L1264 405.52 L1265 410.16 L1266 415 L1267 420.06 L1268 425.45 L1269 431.12 L1270 436.98 L1271 442.95 L1272 448.98 L1273 455.12 L1274 461.4 L1275 467.83 L1276 474.41 L1277 481.17 L1278 488.17 L1279 495.36 L1280 502.67 L1281 510.1 L1282 517.71 L1283 525.39 L1284 533 L1285 540.91 L1286 548.99 L1287 556.36 L1288 562.21 L1289 566.99 L1290 570.67 L1291 573.41 L1292 575.55 L1293 577.05 L1294 578.27 L1295 579.27 L1296 580.02 L1297 580.53 L1298 580.97 L1299 581.37 L1300 581.73 L1301 582.03 L1302 582.26 L1303 582.41 L1304 582.47 L1305 582.42 L1306 582.24 L1307 581.98 L1308 581.65 L1309 581.27 L1310 580.87 L1311 580.48 L1312 580.11 L1313 579.69 L1314 579.24 L1315 578.75 L1316 578.23 L1317 577.7 L1318 577.16 L1319 576.62 L1320 576.09 L1321 575.57 L1322 575.09 L1323 574.63 L1324 574.18 L1325 573.74 L1326 573.31 L1327 572.88 L1328 572.46 L1329 572.04 L1330 571.63 L1331 571.22 L1332 570.81 L1333 570.4 L1334 569.99 L1335 569.59 L1336 569.18 L1337 568.77 L1338 568.36 L1339 567.95 L1340 567.53 L1341 567.09 L1342 566.64 L1343 566.19 L1344 565.73 L1345 565.28 L1346 564.83 L1347 564.39 L1348 563.98 L1349 563.58 L1350 563.21 L1351 562.87 L1352 562.56 L1353 562.24 L1354 561.92 L1355 561.65 L1356 561.45 L1357 561.37 L1358 561.35 L1359 561.33 L1360 561.32 L1361 561.31 L1362 561.3 L1363 561.29 L1364 561.31 L1365 561.4 L1366 561.57 L1367 561.76 L1368 561.96 L1369 562.14 L1370 562.34 L1371 562.55 L1372 562.73 L1373 562.55 L1374 562.34 L1375 562.05 L1376 561.66 L1377 561.17 L1378 560.58 L1379 559.89 L1380 558.92 L1381 557.62 L1382 556.01 L1383 554.15 L1384 552 L1385 549.06 L1386 545.43 L1387 541.39 L1388 537.17 L1389 532.51 L1390 527.36 L1391 521.88 L1392 516.26 L1393 510.61 L1394 504.79 L1395 498.58 L1396 491.77 L1397 483.81 L1398 474.46 L1399 464.61 L1400 455.19 L1401 447.01 L1402 439.43 L1403 432.25 L1404 425.51 L1405 419.27 L1406 413.5 L1407 408.08 L1408 403.03 L1409 398.35 L1410 394.07 L1411 390.11 L1412 386.41 L1413 382.95 L1414 379.73 L1415 376.74 L1416 373.88 L1417 371.17 L1418 368.65 L1419 366.38 L1420 364.39 L1421 362.53 L1422 360.78 L1423 359.23 L1424 357.97 L1425 357.08 L1426 356.35 L1427 355.68 L1428 355.15 L1429 354.81 L1430 354.73 L1431 354.92 L1432 355.34 L1433 355.94 L1434 356.64 L1435 357.39 L1436 358.44 L1437 359.82 L1438 361.46 L1439 363.27 L1440 365.15 L1441 367.25 L1442 369.63 L1443 372.23 L1444 375.01 L1445 377.91 L1446 381.04 L1447 384.41 L1448 388 L1449 391.77 L1450 395.69 L1451 399.82 L1452 404.17 L1453 408.74 L1454 413.53 L1455 418.51 L1456 423.8 L1457 429.4 L1458 435.21 L1459 441.15 L1460 447.16 L1461 453.26 L1462 459.5 L1463 465.88 L1464 472.42 L1465 479.12 L1466 486.05 L1467 493.19 L1468 500.47 L1469 507.85 L1470 515.41 L1471 523.09 L1472 530.73 L1473 538.48 L1474 546.6 L1475 554.27 L1476 560.62 L1477 565.66 L1478 569.7 L1479 572.65 L1480 574.98 L1481 576.64 L1482 577.92 L1483 579 L1484 579.82 L1485 580.39 L1486 580.84 L1487 581.26 L1488 581.63 L1489 581.95 L1490 582.2 L1491 582.37 L1492 582.46 L1493 582.45 L1494 582.31 L1495 582.07 L1496 581.75 L1497 581.38 L1498 580.99 L1499 580.6 L1500 580.22 L1501 579.82 L1502 579.38 L1503 578.9 L1504 578.39 L1505 577.86 L1506 577.32 L1507 576.78 L1508 576.25 L1509 575.73 L1510 575.23 L1511 574.76 L1512 574.31 L1513 573.87 L1514 573.43 L1515 573.01 L1516 572.58 L1517 572.16 L1518 571.75 L1519 571.34 L1520 570.93 L1521 570.52 L1522 570.12 L1523 569.71 L1524 569.3 L1525 568.9 L1526 568.49 L1527 568.07 L1528 567.65 L1529 567.22 L1530 566.78 L1531 566.33 L1532 565.87 L1533 565.41 L1534 564.96 L1535 564.52 L1536 564.1 L1537 563.7 L1538 563.32 L1539 562.97 L1540 562.66 L1541 562.33 L1542 562.01 L1543 561.72 L1544 561.5 L1545 561.38 L1546 561.36 L1547 561.34 L1548 561.32 L1549 561.31 L1550 561.3 L1551 561.29 L1552 561.3 L1553 561.37 L1554 561.51 L1555 561.7 L1556 561.9 L1557 562.08 L1558 562.28 L1559 562.49 L1559.7 562.63" stroke="#efb3b6" stroke-width="4.0" fill="none" stroke-linejoin="round"/>
<path d="M996 534.3 L997 534.05 L998 533.75 L999 533.33 L1000 532.8 L1001 532.14 L1002 531.37 L1003 530.38 L1004 528.97 L1005 527.2 L1006 525.09 L1007 522.7 L1008 519.6 L1009 515.56 L1010 510.89 L1011 505.91 L1012 500.62 L1013 494.68 L1014 488.27 L1015 481.59 L1016 474.86 L1017 468.02 L1018 460.82 L1019 453 L1020 444.19 L1021 433.56 L1022 421.89 L1023 410.3 L1024 399.9 L1025 390.67 L1026 381.89 L1027 373.63 L1028 365.93 L1029 358.83 L1030 352.19 L1031 345.97 L1032 340.2 L1033 334.9 L1034 330.04 L1035 325.49 L1036 321.25 L1037 317.29 L1038 313.61 L1039 310.14 L1040 306.82 L1041 303.71 L1042 300.87 L1043 298.36 L1044 296.11 L1045 293.95 L1046 292 L1047 290.34 L1048 289.09 L1049 288.19 L1050 287.35 L1051 286.64 L1052 286.14 L1053 285.91 L1054 286.01 L1055 286.41 L1056 287.05 L1057 287.84 L1058 288.72 L1059 289.78 L1060 291.29 L1061 293.14 L1062 295.23 L1063 297.45 L1064 299.82 L1065 302.54 L1066 305.55 L1067 308.79 L1068 312.2 L1069 315.81 L1070 319.73 L1071 323.92 L1072 328.34 L1073 332.96 L1074 337.77 L1075 342.87 L1076 348.23 L1077 353.84 L1078 359.7 L1079 365.86 L1080 372.41 L1081 379.26 L1082 386.31 L1083 393.46 L1084 400.69 L1085 408.08 L1086 415.64 L1087 423.37 L1088 431.29 L1089 439.45 L1090 447.89 L1091 456.54 L1092 465.3 L1093 474.25 L1094 483.38 L1095 492.55 L1096 501.65 L1097 511.27 L1098 520.77 L1099 529.12 L1100 535.62 L1101 540.98 L1102 544.95 L1103 548.03 L1104 550.34 L1105 551.98 L1106 553.37 L1107 554.48 L1108 555.28 L1109 555.84 L1110 556.36 L1111 556.83 L1112 557.23 L1113 557.57 L1114 557.81 L1115 557.96 L1116 558 L1117 557.89 L1118 557.65 L1119 557.3 L1120 556.88 L1121 556.42 L1122 555.95 L1123 555.49 L1124 555.03 L1125 554.52 L1126 553.97 L1127 553.37 L1128 552.75 L1129 552.11 L1130 551.46 L1131 550.82 L1132 550.19 L1133 549.58 L1134 549.01 L1135 548.47 L1136 547.94 L1137 547.41 L1138 546.9 L1139 546.39 L1140 545.89 L1141 545.39 L1142 544.9 L1143 544.41 L1144 543.92 L1145 543.44 L1146 542.95 L1147 542.46 L1148 541.98 L1149 541.49 L1150 541 L1151 540.5 L1152 539.99 L1153 539.47 L1154 538.93 L1155 538.39 L1156 537.84 L1157 537.3 L1158 536.77 L1159 536.25 L1160 535.76 L1161 535.3 L1162 534.86 L1163 534.47 L1164 534.1 L1165 533.71 L1166 533.34 L1167 533.04 L1168 532.85 L1169 532.79 L1170 532.76 L1171 532.74 L1172 532.72 L1173 532.71 L1174 532.7 L1175 532.7 L1176 532.74 L1177 532.88 L1178 533.1 L1179 533.33 L1180 533.56 L1181 533.78 L1182 534.03 L1183 534.28 L1184 534.46 L1185 534.13 L1186 533.85 L1187 533.47 L1188 532.97 L1189 532.35 L1190 531.61 L1191 530.72 L1192 529.44 L1193 527.77 L1194 525.76 L1195 523.45 L1196 520.65 L1197 516.85 L1198 512.34 L1199 507.42 L1200 502.28 L1201 496.52 L1202 490.23 L1203 483.61 L1204 476.88 L1205 470.1 L1206 463.03 L1207 455.42 L1208 447.01 L1209 436.91 L1210 425.44 L1211 413.71 L1212 402.83 L1213 393.39 L1214 384.48 L1215 376.05 L1216 368.18 L1217 360.9 L1218 354.14 L1219 347.79 L1220 341.89 L1221 336.44 L1222 331.46 L1223 326.82 L1224 322.49 L1225 318.45 L1226 314.68 L1227 311.16 L1228 307.8 L1229 304.62 L1230 301.69 L1231 299.07 L1232 296.78 L1233 294.59 L1234 292.56 L1235 290.8 L1236 289.42 L1237 288.45 L1238 287.59 L1239 286.84 L1240 286.26 L1241 285.94 L1242 285.94 L1243 286.26 L1244 286.84 L1245 287.59 L1246 288.45 L1247 289.42 L1248 290.8 L1249 292.56 L1250 294.59 L1251 296.78 L1252 299.07 L1253 301.69 L1254 304.62 L1255 307.8 L1256 311.16 L1257 314.69 L1258 318.52 L1259 322.63 L1260 326.99 L1261 331.56 L1262 336.3 L1263 341.31 L1264 346.59 L1265 352.13 L1266 357.92 L1267 363.97 L1268 370.41 L1269 377.18 L1270 384.18 L1271 391.31 L1272 398.51 L1273 405.85 L1274 413.35 L1275 421.03 L1276 428.9 L1277 436.97 L1278 445.34 L1279 453.93 L1280 462.66 L1281 471.53 L1282 480.63 L1283 489.81 L1284 498.9 L1285 508.35 L1286 518 L1287 526.8 L1288 533.8 L1289 539.51 L1290 543.9 L1291 547.18 L1292 549.74 L1293 551.52 L1294 552.98 L1295 554.18 L1296 555.08 L1297 555.68 L1298 556.21 L1299 556.69 L1300 557.12 L1301 557.48 L1302 557.75 L1303 557.93 L1304 558 L1305 557.94 L1306 557.73 L1307 557.41 L1308 557.02 L1309 556.56 L1310 556.09 L1311 555.62 L1312 555.18 L1313 554.68 L1314 554.14 L1315 553.55 L1316 552.94 L1317 552.3 L1318 551.66 L1319 551.01 L1320 550.38 L1321 549.76 L1322 549.18 L1323 548.63 L1324 548.09 L1325 547.57 L1326 547.05 L1327 546.54 L1328 546.04 L1329 545.54 L1330 545.04 L1331 544.55 L1332 544.07 L1333 543.58 L1334 543.1 L1335 542.61 L1336 542.12 L1337 541.64 L1338 541.14 L1339 540.65 L1340 540.15 L1341 539.63 L1342 539.09 L1343 538.55 L1344 538 L1345 537.46 L1346 536.92 L1347 536.4 L1348 535.9 L1349 535.43 L1350 534.99 L1351 534.59 L1352 534.21 L1353 533.83 L1354 533.45 L1355 533.12 L1356 532.89 L1357 532.8 L1358 532.77 L1359 532.75 L1360 532.73 L1361 532.71 L1362 532.71 L1363 532.7 L1364 532.72 L1365 532.83 L1366 533.03 L1367 533.26 L1368 533.5 L1369 533.71 L1370 533.96 L1371 534.21 L1372 534.41 L1373 534.21 L1374 533.95 L1375 533.6 L1376 533.13 L1377 532.55 L1378 531.85 L1379 531.02 L1380 529.86 L1381 528.31 L1382 526.39 L1383 524.17 L1384 521.59 L1385 518.08 L1386 513.75 L1387 508.92 L1388 503.88 L1389 498.31 L1390 492.16 L1391 485.62 L1392 478.9 L1393 472.15 L1394 465.2 L1395 457.78 L1396 449.64 L1397 440.13 L1398 428.96 L1399 417.19 L1400 405.94 L1401 396.16 L1402 387.1 L1403 378.52 L1404 370.48 L1405 363.02 L1406 356.13 L1407 349.65 L1408 343.61 L1409 338.02 L1410 332.92 L1411 328.18 L1412 323.76 L1413 319.63 L1414 315.78 L1415 312.2 L1416 308.79 L1417 305.55 L1418 302.54 L1419 299.82 L1420 297.45 L1421 295.23 L1422 293.14 L1423 291.29 L1424 289.78 L1425 288.72 L1426 287.84 L1427 287.05 L1428 286.41 L1429 286.01 L1430 285.91 L1431 286.14 L1432 286.64 L1433 287.35 L1434 288.19 L1435 289.09 L1436 290.34 L1437 292 L1438 293.95 L1439 296.11 L1440 298.36 L1441 300.87 L1442 303.71 L1443 306.82 L1444 310.14 L1445 313.61 L1446 317.34 L1447 321.37 L1448 325.66 L1449 330.17 L1450 334.85 L1451 339.78 L1452 344.98 L1453 350.44 L1454 356.16 L1455 362.11 L1456 368.44 L1457 375.12 L1458 382.06 L1459 389.16 L1460 396.34 L1461 403.63 L1462 411.08 L1463 418.71 L1464 426.52 L1465 434.52 L1466 442.8 L1467 451.33 L1468 460.03 L1469 468.84 L1470 477.89 L1471 487.05 L1472 496.19 L1473 505.45 L1474 515.14 L1475 524.31 L1476 531.9 L1477 537.91 L1478 542.75 L1479 546.27 L1480 549.06 L1481 551.03 L1482 552.57 L1483 553.85 L1484 554.84 L1485 555.51 L1486 556.05 L1487 556.55 L1488 557 L1489 557.38 L1490 557.68 L1491 557.89 L1492 557.99 L1493 557.97 L1494 557.81 L1495 557.52 L1496 557.14 L1497 556.7 L1498 556.23 L1499 555.76 L1500 555.31 L1501 554.84 L1502 554.31 L1503 553.73 L1504 553.13 L1505 552.5 L1506 551.85 L1507 551.21 L1508 550.57 L1509 549.94 L1510 549.35 L1511 548.79 L1512 548.25 L1513 547.73 L1514 547.21 L1515 546.69 L1516 546.19 L1517 545.69 L1518 545.19 L1519 544.7 L1520 544.21 L1521 543.73 L1522 543.24 L1523 542.76 L1524 542.27 L1525 541.78 L1526 541.29 L1527 540.8 L1528 540.3 L1529 539.78 L1530 539.25 L1531 538.71 L1532 538.17 L1533 537.62 L1534 537.08 L1535 536.56 L1536 536.05 L1537 535.57 L1538 535.12 L1539 534.7 L1540 534.33 L1541 533.94 L1542 533.56 L1543 533.21 L1544 532.95 L1545 532.81 L1546 532.78 L1547 532.75 L1548 532.73 L1549 532.72 L1550 532.71 L1551 532.7 L1552 532.7 L1553 532.79 L1554 532.96 L1555 533.19 L1556 533.43 L1557 533.64 L1558 533.88 L1559 534.13 L1559.7 534.3" stroke="#e48e90" stroke-width="4.2" fill="none" stroke-linejoin="round"/>
<path d="M996 505.4 L997 505.15 L998 504.85 L999 504.43 L1000 503.9 L1001 503.24 L1002 502.47 L1003 501.48 L1004 500.07 L1005 498.3 L1006 496.19 L1007 493.8 L1008 490.7 L1009 486.66 L1010 481.99 L1011 477.01 L1012 471.72 L1013 465.78 L1014 459.37 L1015 452.69 L1016 445.96 L1017 439.12 L1018 431.92 L1019 424.1 L1020 415.29 L1021 404.66 L1022 392.99 L1023 381.4 L1024 371 L1025 361.77 L1026 352.99 L1027 344.73 L1028 337.03 L1029 329.93 L1030 323.29 L1031 317.07 L1032 311.3 L1033 306 L1034 301.14 L1035 296.59 L1036 292.35 L1037 288.39 L1038 284.71 L1039 281.24 L1040 277.92 L1041 274.81 L1042 271.97 L1043 269.46 L1044 267.21 L1045 265.05 L1046 263.1 L1047 261.44 L1048 260.19 L1049 259.29 L1050 258.45 L1051 257.74 L1052 257.24 L1053 257.01 L1054 257.11 L1055 257.51 L1056 258.15 L1057 258.94 L1058 259.82 L1059 260.88 L1060 262.39 L1061 264.24 L1062 266.33 L1063 268.55 L1064 270.92 L1065 273.64 L1066 276.65 L1067 279.89 L1068 283.3 L1069 286.91 L1070 290.83 L1071 295.02 L1072 299.44 L1073 304.06 L1074 308.87 L1075 313.97 L1076 319.33 L1077 324.94 L1078 330.8 L1079 336.96 L1080 343.51 L1081 350.36 L1082 357.41 L1083 364.56 L1084 371.79 L1085 379.18 L1086 386.74 L1087 394.47 L1088 402.39 L1089 410.55 L1090 418.99 L1091 427.64 L1092 436.4 L1093 445.35 L1094 454.48 L1095 463.65 L1096 472.75 L1097 482.37 L1098 491.87 L1099 500.22 L1100 506.72 L1101 512.08 L1102 516.05 L1103 519.13 L1104 521.44 L1105 523.08 L1106 524.47 L1107 525.58 L1108 526.38 L1109 526.94 L1110 527.46 L1111 527.93 L1112 528.33 L1113 528.67 L1114 528.91 L1115 529.06 L1116 529.1 L1117 528.99 L1118 528.75 L1119 528.4 L1120 527.98 L1121 527.52 L1122 527.05 L1123 526.59 L1124 526.13 L1125 525.62 L1126 525.07 L1127 524.47 L1128 523.85 L1129 523.21 L1130 522.56 L1131 521.92 L1132 521.29 L1133 520.68 L1134 520.11 L1135 519.57 L1136 519.04 L1137 518.51 L1138 518 L1139 517.49 L1140 516.99 L1141 516.49 L1142 516 L1143 515.51 L1144 515.02 L1145 514.54 L1146 514.05 L1147 513.56 L1148 513.08 L1149 512.59 L1150 512.1 L1151 511.6 L1152 511.09 L1153 510.57 L1154 510.03 L1155 509.49 L1156 508.94 L1157 508.4 L1158 507.87 L1159 507.35 L1160 506.86 L1161 506.4 L1162 505.96 L1163 505.57 L1164 505.2 L1165 504.81 L1166 504.44 L1167 504.14 L1168 503.95 L1169 503.89 L1170 503.86 L1171 503.84 L1172 503.82 L1173 503.81 L1174 503.8 L1175 503.8 L1176 503.84 L1177 503.98 L1178 504.2 L1179 504.43 L1180 504.66 L1181 504.88 L1182 505.13 L1183 505.38 L1184 505.56 L1185 505.23 L1186 504.95 L1187 504.57 L1188 504.07 L1189 503.45 L1190 502.71 L1191 501.82 L1192 500.54 L1193 498.87 L1194 496.86 L1195 494.55 L1196 491.75 L1197 487.95 L1198 483.44 L1199 478.52 L1200 473.38 L1201 467.62 L1202 461.33 L1203 454.71 L1204 447.98 L1205 441.2 L1206 434.13 L1207 426.52 L1208 418.11 L1209 408.01 L1210 396.54 L1211 384.81 L1212 373.93 L1213 364.49 L1214 355.58 L1215 347.15 L1216 339.28 L1217 332 L1218 325.24 L1219 318.89 L1220 312.99 L1221 307.54 L1222 302.56 L1223 297.92 L1224 293.59 L1225 289.55 L1226 285.78 L1227 282.26 L1228 278.9 L1229 275.72 L1230 272.79 L1231 270.17 L1232 267.88 L1233 265.69 L1234 263.66 L1235 261.9 L1236 260.52 L1237 259.55 L1238 258.69 L1239 257.94 L1240 257.36 L1241 257.04 L1242 257.04 L1243 257.36 L1244 257.94 L1245 258.69 L1246 259.55 L1247 260.52 L1248 261.9 L1249 263.66 L1250 265.69 L1251 267.88 L1252 270.17 L1253 272.79 L1254 275.72 L1255 278.9 L1256 282.26 L1257 285.79 L1258 289.62 L1259 293.73 L1260 298.09 L1261 302.66 L1262 307.4 L1263 312.41 L1264 317.69 L1265 323.23 L1266 329.02 L1267 335.07 L1268 341.51 L1269 348.28 L1270 355.28 L1271 362.41 L1272 369.61 L1273 376.95 L1274 384.45 L1275 392.13 L1276 400 L1277 408.07 L1278 416.44 L1279 425.03 L1280 433.76 L1281 442.63 L1282 451.73 L1283 460.91 L1284 470 L1285 479.45 L1286 489.1 L1287 497.9 L1288 504.9 L1289 510.61 L1290 515 L1291 518.28 L1292 520.84 L1293 522.62 L1294 524.08 L1295 525.28 L1296 526.18 L1297 526.78 L1298 527.31 L1299 527.79 L1300 528.22 L1301 528.58 L1302 528.85 L1303 529.03 L1304 529.1 L1305 529.04 L1306 528.83 L1307 528.51 L1308 528.12 L1309 527.66 L1310 527.19 L1311 526.72 L1312 526.28 L1313 525.78 L1314 525.24 L1315 524.65 L1316 524.04 L1317 523.4 L1318 522.76 L1319 522.11 L1320 521.48 L1321 520.86 L1322 520.28 L1323 519.73 L1324 519.19 L1325 518.67 L1326 518.15 L1327 517.64 L1328 517.14 L1329 516.64 L1330 516.14 L1331 515.65 L1332 515.17 L1333 514.68 L1334 514.2 L1335 513.71 L1336 513.22 L1337 512.74 L1338 512.24 L1339 511.75 L1340 511.25 L1341 510.73 L1342 510.19 L1343 509.65 L1344 509.1 L1345 508.56 L1346 508.02 L1347 507.5 L1348 507 L1349 506.53 L1350 506.09 L1351 505.69 L1352 505.31 L1353 504.93 L1354 504.55 L1355 504.22 L1356 503.99 L1357 503.9 L1358 503.87 L1359 503.85 L1360 503.83 L1361 503.81 L1362 503.81 L1363 503.8 L1364 503.82 L1365 503.93 L1366 504.13 L1367 504.36 L1368 504.6 L1369 504.81 L1370 505.06 L1371 505.31 L1372 505.51 L1373 505.31 L1374 505.05 L1375 504.7 L1376 504.23 L1377 503.65 L1378 502.95 L1379 502.12 L1380 500.96 L1381 499.41 L1382 497.49 L1383 495.27 L1384 492.69 L1385 489.18 L1386 484.85 L1387 480.02 L1388 474.98 L1389 469.41 L1390 463.26 L1391 456.72 L1392 450 L1393 443.25 L1394 436.3 L1395 428.88 L1396 420.74 L1397 411.23 L1398 400.06 L1399 388.29 L1400 377.04 L1401 367.26 L1402 358.2 L1403 349.62 L1404 341.58 L1405 334.12 L1406 327.23 L1407 320.75 L1408 314.71 L1409 309.12 L1410 304.02 L1411 299.28 L1412 294.86 L1413 290.73 L1414 286.88 L1415 283.3 L1416 279.89 L1417 276.65 L1418 273.64 L1419 270.92 L1420 268.55 L1421 266.33 L1422 264.24 L1423 262.39 L1424 260.88 L1425 259.82 L1426 258.94 L1427 258.15 L1428 257.51 L1429 257.11 L1430 257.01 L1431 257.24 L1432 257.74 L1433 258.45 L1434 259.29 L1435 260.19 L1436 261.44 L1437 263.1 L1438 265.05 L1439 267.21 L1440 269.46 L1441 271.97 L1442 274.81 L1443 277.92 L1444 281.24 L1445 284.71 L1446 288.44 L1447 292.47 L1448 296.76 L1449 301.27 L1450 305.95 L1451 310.88 L1452 316.08 L1453 321.54 L1454 327.26 L1455 333.21 L1456 339.54 L1457 346.22 L1458 353.16 L1459 360.26 L1460 367.44 L1461 374.73 L1462 382.18 L1463 389.81 L1464 397.62 L1465 405.62 L1466 413.9 L1467 422.43 L1468 431.13 L1469 439.94 L1470 448.99 L1471 458.15 L1472 467.29 L1473 476.55 L1474 486.24 L1475 495.41 L1476 503 L1477 509.01 L1478 513.85 L1479 517.37 L1480 520.16 L1481 522.13 L1482 523.67 L1483 524.95 L1484 525.94 L1485 526.61 L1486 527.15 L1487 527.65 L1488 528.1 L1489 528.48 L1490 528.78 L1491 528.99 L1492 529.09 L1493 529.07 L1494 528.91 L1495 528.62 L1496 528.24 L1497 527.8 L1498 527.33 L1499 526.86 L1500 526.41 L1501 525.94 L1502 525.41 L1503 524.83 L1504 524.23 L1505 523.6 L1506 522.95 L1507 522.31 L1508 521.67 L1509 521.04 L1510 520.45 L1511 519.89 L1512 519.35 L1513 518.83 L1514 518.31 L1515 517.79 L1516 517.29 L1517 516.79 L1518 516.29 L1519 515.8 L1520 515.31 L1521 514.83 L1522 514.34 L1523 513.86 L1524 513.37 L1525 512.88 L1526 512.39 L1527 511.9 L1528 511.4 L1529 510.88 L1530 510.35 L1531 509.81 L1532 509.27 L1533 508.72 L1534 508.18 L1535 507.66 L1536 507.15 L1537 506.67 L1538 506.22 L1539 505.8 L1540 505.43 L1541 505.04 L1542 504.66 L1543 504.31 L1544 504.05 L1545 503.91 L1546 503.88 L1547 503.85 L1548 503.83 L1549 503.82 L1550 503.81 L1551 503.8 L1552 503.8 L1553 503.89 L1554 504.06 L1555 504.29 L1556 504.53 L1557 504.74 L1558 504.98 L1559 505.23 L1559.7 505.4" stroke="#c8000a" stroke-width="4.6" fill="none" stroke-linejoin="round"/>
<path d="M996 336.6 L1025.86 344.99 L1026.11 343 L1026.36 341.05 L1026.61 339.13 L1026.86 337.25 L1027.11 335.41 L1027.36 333.61 L1027.61 331.84 L1027.86 330.11 L1028.11 328.41 L1028.36 326.73 L1028.61 325.08 L1028.86 323.45 L1029.11 321.84 L1029.36 320.27 L1029.61 318.72 L1029.86 317.19 L1030.12 315.7 L1030.37 314.23 L1030.62 312.79 L1030.87 311.39 L1031.12 310 L1031.37 308.65 L1031.62 307.33 L1031.87 306.04 L1032.12 304.78 L1032.37 303.55 L1032.62 302.34 L1032.87 301.14 L1033.12 299.97 L1033.38 298.82 L1033.63 297.68 L1033.88 296.57 L1034.13 295.47 L1034.38 294.39 L1034.63 293.33 L1034.88 292.29 L1035.13 291.27 L1035.38 290.26 L1035.63 289.27 L1035.89 288.3 L1036.14 287.35 L1036.39 286.41 L1036.64 285.49 L1036.89 284.59 L1037.14 283.7 L1037.39 282.82 L1037.64 281.96 L1037.89 281.1 L1038.15 280.25 L1038.4 279.41 L1038.65 278.58 L1038.9 277.76 L1039.15 276.95 L1039.4 276.16 L1039.65 275.38 L1039.91 274.61 L1040.16 273.86 L1040.41 273.13 L1040.66 272.42 L1040.92 271.72 L1041.17 271.05 L1041.43 270.39 L1041.68 269.76 L1041.94 269.14 L1042.19 268.55 L1042.45 267.99 L1042.7 267.43 L1042.95 266.87 L1043.2 266.31 L1043.45 265.76 L1043.7 265.22 L1043.96 264.68 L1044.21 264.16 L1044.47 263.65 L1044.73 263.15 L1044.98 262.66 L1045.24 262.19 L1045.5 261.74 L1045.77 261.31 L1046.04 260.9 L1046.31 260.51 L1046.58 260.14 L1046.87 259.8 L1047.16 259.48 L1047.46 259.18 L1047.72 258.96 L1047.97 258.73 L1048.22 258.5 L1048.48 258.28 L1048.74 258.06 L1049 257.84 L1049.27 257.63 L1049.54 257.42 L1049.81 257.22 L1050.08 257.03 L1050.37 256.84 L1050.65 256.67 L1050.94 256.51 L1051.24 256.36 L1051.55 256.23 L1051.86 256.12 L1052.18 256.03 L1052.51 255.96 L1052.85 255.92 L1053.2 255.9 L1053.55 255.92 L1053.89 255.96 L1054.22 256.03 L1054.54 256.12 L1054.85 256.23 L1055.16 256.36 L1055.46 256.51 L1055.75 256.67 L1056.03 256.84 L1056.32 257.03 L1056.59 257.22 L1056.86 257.42 L1057.13 257.63 L1057.4 257.84 L1057.66 258.06 L1057.92 258.28 L1058.18 258.5 L1058.43 258.73 L1058.68 258.96 L1058.94 259.18 L1059.24 259.48 L1059.53 259.8 L1059.82 260.14 L1060.09 260.51 L1060.36 260.9 L1060.63 261.31 L1060.9 261.74 L1061.16 262.19 L1061.42 262.66 L1061.67 263.15 L1061.93 263.65 L1062.19 264.16 L1062.44 264.68 L1062.7 265.22 L1062.95 265.76 L1063.2 266.31 L1063.45 266.87 L1063.7 267.43 L1063.95 267.99 L1064.21 268.55 L1064.46 269.14 L1064.72 269.76 L1064.97 270.39 L1065.23 271.05 L1065.48 271.72 L1065.74 272.42 L1065.99 273.13 L1066.24 273.86 L1066.49 274.61 L1066.75 275.38 L1067 276.16 L1067.25 276.95 L1067.5 277.76 L1067.75 278.58 L1068 279.41 L1068.25 280.25 L1068.51 281.1 L1068.76 281.96 L1069.01 282.82 L1069.26 283.7 L1069.51 284.59 L1069.76 285.5 L1070.01 286.44 L1070.26 287.39 L1070.52 288.36 L1070.77 289.35 L1071.02 290.36 L1071.27 291.38 L1071.52 292.43 L1071.77 293.48 L1072.02 294.55 L1072.27 295.64 L1072.52 296.74 L1072.77 297.85 L1073.02 298.98 L1073.27 300.12 L1073.52 301.27 L1073.78 302.42 L1074.03 303.59 L1074.03 303.59 L1213.41 351.17 L1213.66 349.08 L1213.91 347.02 L1214.16 344.99 L1214.41 343 L1214.66 341.05 L1214.91 339.13 L1215.16 337.25 L1215.41 335.41 L1215.66 333.61 L1215.91 331.84 L1216.16 330.11 L1216.41 328.41 L1216.66 326.73 L1216.91 325.08 L1217.16 323.45 L1217.41 321.84 L1217.66 320.27 L1217.91 318.72 L1218.16 317.19 L1218.42 315.7 L1218.67 314.23 L1218.92 312.79 L1219.17 311.39 L1219.42 310 L1219.67 308.65 L1219.92 307.33 L1220.17 306.04 L1220.42 304.78 L1220.67 303.55 L1220.92 302.34 L1221.17 301.14 L1221.42 299.97 L1221.68 298.82 L1221.93 297.68 L1222.18 296.57 L1222.43 295.47 L1222.68 294.39 L1222.93 293.33 L1223.18 292.29 L1223.43 291.27 L1223.68 290.26 L1223.93 289.27 L1224.19 288.3 L1224.44 287.35 L1224.69 286.41 L1224.94 285.49 L1225.19 284.59 L1225.44 283.7 L1225.69 282.82 L1225.94 281.96 L1226.19 281.1 L1226.45 280.25 L1226.7 279.41 L1226.95 278.58 L1227.2 277.76 L1227.45 276.95 L1227.7 276.16 L1227.95 275.38 L1228.21 274.61 L1228.46 273.86 L1228.71 273.13 L1228.96 272.42 L1229.22 271.72 L1229.47 271.05 L1229.73 270.39 L1229.98 269.76 L1230.24 269.14 L1230.49 268.55 L1230.75 267.99 L1231 267.43 L1231.25 266.87 L1231.5 266.31 L1231.75 265.76 L1232 265.22 L1232.26 264.68 L1232.51 264.16 L1232.77 263.65 L1233.03 263.15 L1233.28 262.66 L1233.54 262.19 L1233.8 261.74 L1234.07 261.31 L1234.34 260.9 L1234.61 260.51 L1234.88 260.14 L1235.17 259.8 L1235.46 259.48 L1235.76 259.18 L1236.02 258.96 L1236.27 258.73 L1236.52 258.5 L1236.78 258.28 L1237.04 258.06 L1237.3 257.84 L1237.57 257.63 L1237.84 257.42 L1238.11 257.22 L1238.38 257.03 L1238.67 256.84 L1238.95 256.67 L1239.24 256.51 L1239.54 256.36 L1239.85 256.23 L1240.16 256.12 L1240.48 256.03 L1240.81 255.96 L1241.15 255.92 L1241.5 255.9 L1241.85 255.92 L1242.19 255.96 L1242.52 256.03 L1242.84 256.12 L1243.15 256.23 L1243.46 256.36 L1243.76 256.51 L1244.05 256.67 L1244.33 256.84 L1244.62 257.03 L1244.89 257.22 L1245.16 257.42 L1245.43 257.63 L1245.7 257.84 L1245.96 258.06 L1246.22 258.28 L1246.48 258.5 L1246.73 258.73 L1246.98 258.96 L1247.24 259.18 L1247.54 259.48 L1247.83 259.8 L1248.12 260.14 L1248.39 260.51 L1248.66 260.9 L1248.93 261.31 L1249.2 261.74 L1249.46 262.19 L1249.72 262.66 L1249.97 263.15 L1250.23 263.65 L1250.49 264.16 L1250.74 264.68 L1251 265.22 L1251.25 265.76 L1251.5 266.31 L1251.75 266.87 L1252 267.43 L1252.25 267.99 L1252.51 268.55 L1252.76 269.14 L1253.02 269.76 L1253.27 270.39 L1253.53 271.05 L1253.78 271.72 L1254.04 272.42 L1254.29 273.13 L1254.54 273.86 L1254.79 274.61 L1255.05 275.38 L1255.3 276.16 L1255.55 276.95 L1255.8 277.76 L1256.05 278.58 L1256.3 279.41 L1256.55 280.25 L1256.81 281.1 L1257.06 281.96 L1257.31 282.82 L1257.56 283.7 L1257.81 284.59 L1258.06 285.5 L1258.31 286.44 L1258.56 287.39 L1258.82 288.36 L1259.07 289.35 L1259.32 290.36 L1259.57 291.38 L1259.82 292.43 L1260.07 293.48 L1260.32 294.55 L1260.57 295.64 L1260.82 296.74 L1261.07 297.85 L1261.32 298.98 L1261.57 300.12 L1261.82 301.27 L1262.08 302.42 L1262.33 303.59 L1262.33 303.59 L1401.71 351.17 L1401.96 349.08 L1402.21 347.02 L1402.46 344.99 L1402.71 343 L1402.96 341.05 L1403.21 339.13 L1403.46 337.25 L1403.71 335.41 L1403.96 333.61 L1404.21 331.84 L1404.46 330.11 L1404.71 328.41 L1404.96 326.73 L1405.21 325.08 L1405.46 323.45 L1405.71 321.84 L1405.96 320.27 L1406.21 318.72 L1406.46 317.19 L1406.72 315.7 L1406.97 314.23 L1407.22 312.79 L1407.47 311.39 L1407.72 310 L1407.97 308.65 L1408.22 307.33 L1408.47 306.04 L1408.72 304.78 L1408.97 303.55 L1409.22 302.34 L1409.47 301.14 L1409.72 299.97 L1409.98 298.82 L1410.23 297.68 L1410.48 296.57 L1410.73 295.47 L1410.98 294.39 L1411.23 293.33 L1411.48 292.29 L1411.73 291.27 L1411.98 290.26 L1412.23 289.27 L1412.49 288.3 L1412.74 287.35 L1412.99 286.41 L1413.24 285.49 L1413.49 284.59 L1413.74 283.7 L1413.99 282.82 L1414.24 281.96 L1414.49 281.1 L1414.75 280.25 L1415 279.41 L1415.25 278.58 L1415.5 277.76 L1415.75 276.95 L1416 276.16 L1416.25 275.38 L1416.51 274.61 L1416.76 273.86 L1417.01 273.13 L1417.26 272.42 L1417.52 271.72 L1417.77 271.05 L1418.03 270.39 L1418.28 269.76 L1418.54 269.14 L1418.79 268.55 L1419.05 267.99 L1419.3 267.43 L1419.55 266.87 L1419.8 266.31 L1420.05 265.76 L1420.3 265.22 L1420.56 264.68 L1420.81 264.16 L1421.07 263.65 L1421.33 263.15 L1421.58 262.66 L1421.84 262.19 L1422.1 261.74 L1422.37 261.31 L1422.64 260.9 L1422.91 260.51 L1423.18 260.14 L1423.47 259.8 L1423.76 259.48 L1424.06 259.18 L1424.32 258.96 L1424.57 258.73 L1424.82 258.5 L1425.08 258.28 L1425.34 258.06 L1425.6 257.84 L1425.87 257.63 L1426.14 257.42 L1426.41 257.22 L1426.68 257.03 L1426.97 256.84 L1427.25 256.67 L1427.54 256.51 L1427.84 256.36 L1428.15 256.23 L1428.46 256.12 L1428.78 256.03 L1429.11 255.96 L1429.45 255.92 L1429.8 255.9 L1430.15 255.92 L1430.49 255.96 L1430.82 256.03 L1431.14 256.12 L1431.45 256.23 L1431.76 256.36 L1432.06 256.51 L1432.35 256.67 L1432.63 256.84 L1432.92 257.03 L1433.19 257.22 L1433.46 257.42 L1433.73 257.63 L1434 257.84 L1434.26 258.06 L1434.52 258.28 L1434.78 258.5 L1435.03 258.73 L1435.28 258.96 L1435.54 259.18 L1435.84 259.48 L1436.13 259.8 L1436.42 260.14 L1436.69 260.51 L1436.96 260.9 L1437.23 261.31 L1437.5 261.74 L1437.76 262.19 L1438.02 262.66 L1438.27 263.15 L1438.53 263.65 L1438.79 264.16 L1439.04 264.68 L1439.3 265.22 L1439.55 265.76 L1439.8 266.31 L1440.05 266.87 L1440.3 267.43 L1440.55 267.99 L1440.81 268.55 L1441.06 269.14 L1441.32 269.76 L1441.57 270.39 L1441.83 271.05 L1442.08 271.72 L1442.34 272.42 L1442.59 273.13 L1442.84 273.86 L1443.09 274.61 L1443.35 275.38 L1443.6 276.16 L1443.85 276.95 L1444.1 277.76 L1444.35 278.58 L1444.6 279.41 L1444.85 280.25 L1445.11 281.1 L1445.36 281.96 L1445.61 282.82 L1445.86 283.7 L1446.11 284.59 L1446.36 285.5 L1446.61 286.44 L1446.86 287.39 L1447.12 288.36 L1447.37 289.35 L1447.62 290.36 L1447.87 291.38 L1448.12 292.43 L1448.37 293.48 L1448.62 294.55 L1448.87 295.64 L1449.12 296.74 L1449.37 297.85 L1449.62 298.98 L1449.87 300.12 L1450.12 301.27 L1450.38 302.42 L1450.63 303.59 L1559.6 340.7" stroke="#2a4f9c" stroke-width="3.8" fill="none" stroke-linejoin="miter"/>
<path d="M1052.2 264.5 V277.5" stroke="#000" stroke-width="2.7" stroke-dasharray="0.01 4.2" stroke-linecap="round" fill="none"/><path d="M1052.2 284.8 L1048 277.5 L1056.4 277.5 Z" fill="#000"/>
<path d="M1052.2 304.4 V337.2" stroke="#000" stroke-width="2.7" stroke-dasharray="0.01 4.2" stroke-linecap="round" fill="none"/><path d="M1052.2 344.8 L1048 337.2 L1056.4 337.2 Z" fill="#000"/>
<path d="M1240.5 264.5 V277.5" stroke="#000" stroke-width="2.7" stroke-dasharray="0.01 4.2" stroke-linecap="round" fill="none"/><path d="M1240.5 284.8 L1236.3 277.5 L1244.7 277.5 Z" fill="#000"/>
<path d="M1240.5 304.4 V337.2" stroke="#000" stroke-width="2.7" stroke-dasharray="0.01 4.2" stroke-linecap="round" fill="none"/><path d="M1240.5 344.8 L1236.3 337.2 L1244.7 337.2 Z" fill="#000"/>
<path d="M1428.8 264.5 V277.5" stroke="#000" stroke-width="2.7" stroke-dasharray="0.01 4.2" stroke-linecap="round" fill="none"/><path d="M1428.8 284.8 L1424.6 277.5 L1433 277.5 Z" fill="#000"/>
<path d="M1428.8 304.4 V337.2" stroke="#000" stroke-width="2.7" stroke-dasharray="0.01 4.2" stroke-linecap="round" fill="none"/><path d="M1428.8 344.8 L1424.6 337.2 L1433 337.2 Z" fill="#000"/>
<path d="M1143.4 226.5 V201" stroke="#000" stroke-width="2.7" stroke-dasharray="0.01 4.2" stroke-linecap="round" fill="none"/><path d="M1143.4 192.4 L1139.2 201 L1147.6 201 Z" fill="#000"/>
<path d="M1143.4 268.4 V248.2" stroke="#000" stroke-width="2.7" stroke-dasharray="0.01 4.2" stroke-linecap="round" fill="none"/><path d="M1143.4 240 L1139.2 248.2 L1147.6 248.2 Z" fill="#000"/>
<path d="M1143.4 322.2 V292.4" stroke="#000" stroke-width="2.7" stroke-dasharray="0.01 4.2" stroke-linecap="round" fill="none"/><path d="M1143.4 284.6 L1139.2 292.4 L1147.6 292.4 Z" fill="#000"/>
<path d="M1331.6 226.5 V201" stroke="#000" stroke-width="2.7" stroke-dasharray="0.01 4.2" stroke-linecap="round" fill="none"/><path d="M1331.6 192.4 L1327.4 201 L1335.8 201 Z" fill="#000"/>
<path d="M1331.6 268.4 V248.2" stroke="#000" stroke-width="2.7" stroke-dasharray="0.01 4.2" stroke-linecap="round" fill="none"/><path d="M1331.6 240 L1327.4 248.2 L1335.8 248.2 Z" fill="#000"/>
<path d="M1331.6 322.2 V292.4" stroke="#000" stroke-width="2.7" stroke-dasharray="0.01 4.2" stroke-linecap="round" fill="none"/><path d="M1331.6 284.6 L1327.4 292.4 L1335.8 292.4 Z" fill="#000"/>
<path d="M1520.8 226.5 V201" stroke="#000" stroke-width="2.7" stroke-dasharray="0.01 4.2" stroke-linecap="round" fill="none"/><path d="M1520.8 192.4 L1516.6 201 L1525 201 Z" fill="#000"/>
<path d="M1520.8 268.4 V248.2" stroke="#000" stroke-width="2.7" stroke-dasharray="0.01 4.2" stroke-linecap="round" fill="none"/><path d="M1520.8 240 L1516.6 248.2 L1525 248.2 Z" fill="#000"/>
<path d="M1520.8 322.2 V292.4" stroke="#000" stroke-width="2.7" stroke-dasharray="0.01 4.2" stroke-linecap="round" fill="none"/><path d="M1520.8 284.6 L1516.6 292.4 L1525 292.4 Z" fill="#000"/>
<rect x="1618" y="322.55" width="34" height="6.3" fill="#c00000"/>
<rect x="1690" y="322.55" width="33.5" height="6.3" fill="#0c1f5e"/>
<rect x="1618" y="363.85" width="34" height="6.3" fill="#e28e90"/>
<rect x="1690" y="363.85" width="33.5" height="6.3" fill="#8ba8dd"/>
<rect x="1618" y="406.05" width="34" height="6.3" fill="#eeb3b5"/>
<rect x="1690" y="406.05" width="33.5" height="6.3" fill="#b2c7ea"/>
<rect x="1620" y="441.85" width="34" height="6.3" fill="#f8dde0"/>
<rect x="1690" y="441.85" width="33.5" height="6.3" fill="#b2c6ea"/>
<path d="M1753.6 320.4 V408" stroke="#000" stroke-width="3" fill="none"/>
<path d="M1747.6 407 L1753.6 419.5 L1759.6 407 Z" fill="#000"/>
<text x="10" y="41" font-family="'Liberation Sans', Arial, sans-serif" font-weight="bold" font-size="42.3">A</text>
<text x="864.5" y="41.2" font-family="'Liberation Sans', Arial, sans-serif" font-weight="bold" font-size="42.5">B</text>
<text transform="translate(31.3 437.5) rotate(-90)" font-family="'Liberation Serif', 'Times New Roman', serif" font-weight="bold" font-size="37.4">LV pressure (mm Hg)</text>
<text x="357.5" y="667.9" font-family="'Liberation Serif', 'Times New Roman', serif" font-weight="bold" font-size="37.3">LV volume (ml)</text>
<text x="102.5" y="685.5" font-family="'Liberation Serif', 'Times New Roman', serif" font-size="37">V<tspan font-size="25" dy="8.5">D</tspan></text>
<text transform="translate(525.8 95.5) rotate(-45.2)" font-family="'Liberation Serif', 'Times New Roman', serif" font-size="36.8">ESPVR</text>
<text transform="translate(666.7 522.2) rotate(-37.8)" font-family="'Liberation Serif', 'Times New Roman', serif" font-size="37.5">EDPVR</text>
<text transform="translate(898.6 522.5) rotate(-90)" font-family="'Liberation Serif', 'Times New Roman', serif" font-weight="bold" font-size="37.3">LVP and AoP (mmHg)</text>
<text x="962" y="145.9" text-anchor="end" font-family="'Liberation Serif', 'Times New Roman', serif" font-size="25.6">120</text>
<text x="963.5" y="366.6" text-anchor="end" font-family="'Liberation Serif', 'Times New Roman', serif" font-size="26">60</text>
<text x="966.8" y="592.8" text-anchor="end" font-family="'Liberation Serif', 'Times New Roman', serif" font-size="25.5">0</text>
<text x="1030" y="671" font-family="'Liberation Serif', 'Times New Roman', serif" font-weight="bold" font-size="37.7">Time (s)</text>
<text x="1611" y="309.3" font-family="'Liberation Serif', 'Times New Roman', serif" font-weight="bold" font-size="29">LVP</text>
<text x="1681.5" y="309.3" font-family="'Liberation Serif', 'Times New Roman', serif" font-weight="bold" font-size="29.5">AoP</text>
<text x="1771" y="363.9" font-family="'Liberation Serif', 'Times New Roman', serif" font-weight="bold" font-size="29.1">Increased</text>
<text x="1771" y="398.2" font-family="'Liberation Serif', 'Times New Roman', serif" font-weight="bold" font-size="29.1">unloading</text>
</svg>
</body></html>
